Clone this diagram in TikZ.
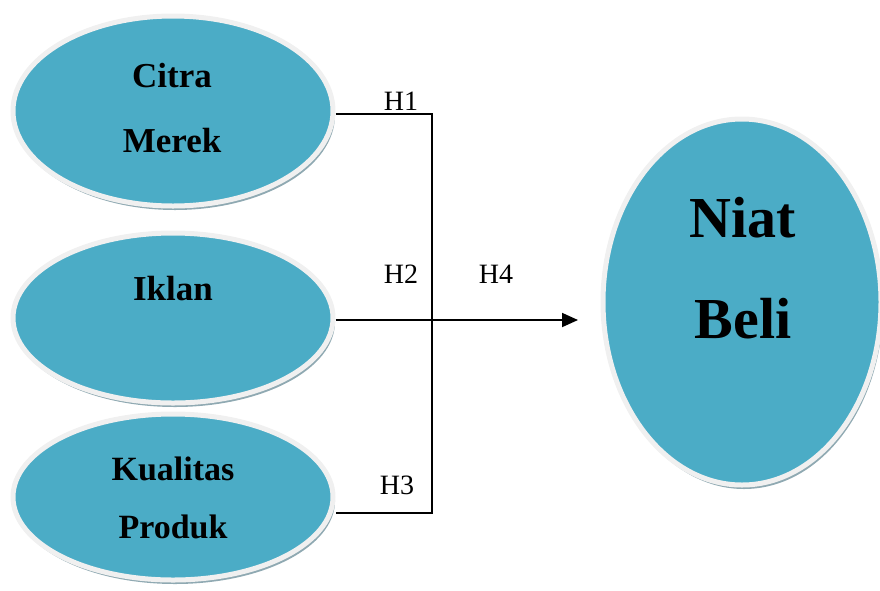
\documentclass[tikz,border=0pt]{standalone}
\usepackage{fontspec}
\setmainfont{Liberation Serif}
\usetikzlibrary{shapes.geometric,shadows,arrows.meta}
\definecolor{aqua}{HTML}{4BACC6}
\definecolor{rimc}{HTML}{F0F0F0}
\definecolor{shadc}{HTML}{8FA9B2}
\tikzset{
  varbox/.style={ellipse, inner sep=0pt, fill=aqua, draw=rimc, line width=5pt,
    drop shadow={shadow xshift=2pt, shadow yshift=-4pt, fill=shadc, opacity=1}},
  conn/.style={line width=1.8pt, black},
  hlab/.style={anchor=base, font=\fontsize{28}{30}\selectfont},
  vlab/.style={anchor=base, font=\fontsize{35}{40}\selectfont\bfseries},
  blab/.style={anchor=base, font=\fontsize{58}{60}\selectfont\bfseries}
}
\begin{document}
\begin{tikzpicture}[x=1pt,y=-1pt]
\useasboundingbox (0,0) rectangle (880,590);
\node[varbox, minimum width=320pt, minimum height=190pt] (e1) at (173,111) {};
\node[varbox, minimum width=320pt, minimum height=170pt] (e2) at (173,318) {};
\node[varbox, minimum width=320pt, minimum height=166pt] (e3) at (173,497) {};
\node[varbox, minimum width=278pt, minimum height=366pt] (e4) at (742,302) {};

\node[vlab] (t1a) at (172,87) {Citra};
\node[vlab] (t1b) at (172,152) {Merek};
\node[vlab] (t2) at (173,300) {Iklan};
\node[vlab, font=\fontsize{34}{40}\selectfont\bfseries] (t3a) at (173,480) {Kualitas};
\node[vlab, font=\fontsize{34}{40}\selectfont\bfseries] (t3b) at (173,538) {Produk};
\node[blab] (t4a) at (743,237) {Niat};
\node[blab] (t4b) at (743,338) {Beli};

\coordinate (c1) at (432,114);
\coordinate (c3) at (432,513);
\coordinate (tip) at (578,320);
\draw[conn] (e1.east |- c1) -- (c1) -- (c3) -- (e3.east |- c3);
\draw[conn, -{Triangle[length=16pt,width=14pt]}] (e2.east |- tip) -- (tip);

\node[hlab] (h1) at (401,110) {H1};
\node[hlab] (h2) at (401,283) {H2};
\node[hlab] (h4) at (496,283) {H4};
\node[hlab] (h3) at (397,494) {H3};
\end{tikzpicture}
\end{document}
